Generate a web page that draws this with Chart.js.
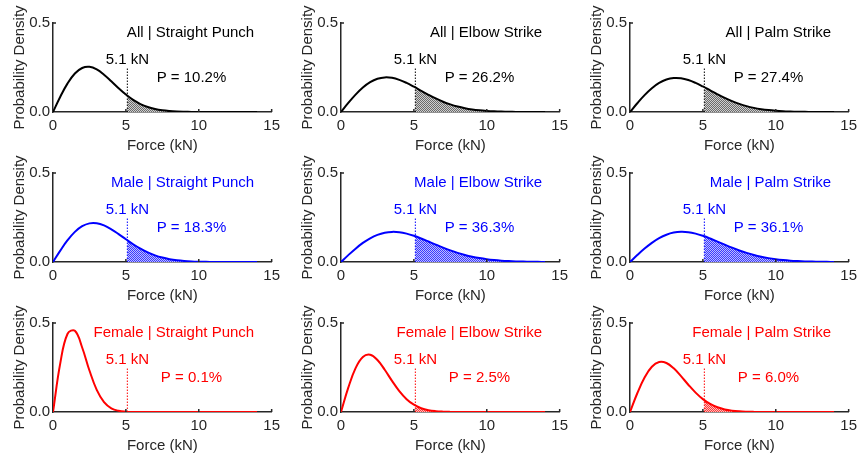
<!DOCTYPE html>
<html><head><meta charset="utf-8">
<script src="https://cdn.jsdelivr.net/npm/chart.js@4.4.1/dist/chart.umd.min.js"></script>
<style>
html,body{margin:0;padding:0;background:#fff;}
body{width:859px;height:460px;position:relative;overflow:hidden;}
.cell{position:absolute;width:285px;height:156px;}
.cell canvas{display:block;}
</style></head><body>
<script>
// ---- data ----
const forceX = [0,0.5,1,1.5,2,2.5,3,3.5,4,4.5,5,5.5,6,6.5,7,7.5,8,8.5,9,9.5,10,10.5,11,11.5,12,12.5,13,13.5,14];
const xTicks = [0,5,10,15];
const yTicks = [0,0.5];
const threshold = 5.1;
const thresholdLabel = '5.1 kN';
const thresholdLineTop = 0.25;

const titles = ['All | Straight Punch','All | Elbow Strike','All | Palm Strike',
                'Male | Straight Punch','Male | Elbow Strike','Male | Palm Strike',
                'Female | Straight Punch','Female | Elbow Strike','Female | Palm Strike'];
const tailLabels = ['P = 10.2%','P = 26.2%','P = 27.4%','P = 18.3%','P = 36.3%','P = 36.1%','P = 0.1%','P = 2.5%','P = 6.0%'];
const groups = ['all','all','all','male','male','male','female','female','female'];

const allPunch   = [0,0.0859,0.1608,0.2162,0.2472,0.2536,0.2390,0.2096,0.1724,0.1335,0.0978,0.0678,0.0447,0.0280,0.0167,0.0094,0.0051,0.0026,0.0013,0.0006,0.0003,0.0001,0,0,0,0,0,0,0];
const allElbow   = [0,0.0508,0.0978,0.1376,0.1676,0.1866,0.1944,0.1918,0.1807,0.1634,0.1421,0.1193,0.0968,0.0760,0.0578,0.0427,0.0305,0.0212,0.0143,0.0094,0.0060,0.0037,0.0022,0.0013,0.0007,0.0004,0.0002,0.0001,0.0001];
const allPalm    = [0,0.0492,0.0947,0.1335,0.1632,0.1824,0.1908,0.1894,0.1796,0.1635,0.1434,0.1215,0.0995,0.0790,0.0608,0.0454,0.0329,0.0232,0.0159,0.0106,0.0069,0.0043,0.0027,0.0016,0.0009,0.0005,0.0003,0.0002,0.0001];
const malePunch  = [0,0.0642,0.1223,0.1691,0.2011,0.2170,0.2176,0.2054,0.1838,0.1566,0.1277,0.0997,0.0747,0.0538,0.0373,0.0249,0.0160,0.0099,0.0059,0.0034,0.0019,0.0010,0.0005,0.0003,0.0001,0.0001,0,0,0];
const maleElbow  = [0,0.0386,0.0750,0.1071,0.1334,0.1527,0.1646,0.1692,0.1671,0.1593,0.1471,0.1319,0.1150,0.0977,0.0808,0.0653,0.0515,0.0397,0.0299,0.0220,0.0158,0.0112,0.0077,0.0052,0.0034,0.0022,0.0014,0.0009,0.0005];
const malePalm   = [0,0.0388,0.0753,0.1076,0.1340,0.1533,0.1652,0.1697,0.1675,0.1595,0.1471,0.1318,0.1147,0.0973,0.0805,0.0649,0.0511,0.0393,0.0295,0.0217,0.0156,0.0110,0.0075,0.0051,0.0033,0.0022,0.0014,0.0008,0.0005];
const femalePunch= [0,0.2743,0.4397,0.4559,0.3625,0.2332,0.1241,0.0555,0.0209,0.0067,0.0018,0.0004,0.0001,0,0,0,0,0,0,0,0,0,0,0,0,0,0,0,0];
const femaleElbow= [0,0.1369,0.2462,0.3093,0.3217,0.2923,0.2374,0.1747,0.1173,0.0722,0.0409,0.0214,0.0103,0.0046,0.0019,0.0007,0.0003,0.0001,0,0,0,0,0,0,0,0,0,0,0];
const femalePalm = [0,0.1053,0.1941,0.2543,0.2807,0.2751,0.2452,0.2013,0.1533,0.1090,0.0724,0.0452,0.0265,0.0146,0.0076,0.0037,0.0017,0.0007,0.0003,0.0001,0,0,0,0,0,0,0,0,0];
const densities = [allPunch,allElbow,allPalm,malePunch,maleElbow,malePalm,femalePunch,femaleElbow,femalePalm];
const densityAtThreshold = [0.0913,0.1376,0.1391,0.1219,0.1443,0.1442,0.0014,0.0361,0.0662];

// ---- styling / layout ----
const FONT = '"Liberation Sans", Arial, Helvetica, sans-serif';
const AX = '#262626';
const COLORS = {all:'#000000', male:'#0000ff', female:'#ff0000'};
const HATCH = {all:['#6a6a6a','#cfcfcf'], male:['#3a3aff','#bcbcff'], female:['#ff3a3a','#ffbcbc']};
const CELL_LEFT = [0,288,577];
const CELL_TOP = [0,150,300];
const CW = 285, CH = 156;
const TITLE_POS = {x:13.8, y:0.444};
const THR_LABEL_Y = 0.294;
const TAIL_POS = {x:9.5, y:0.19};

function makePattern(c){
  const t = document.createElement('canvas'); t.width=2; t.height=2;
  const g = t.getContext('2d');
  g.fillStyle=c[1]; g.fillRect(0,0,2,2);
  g.fillStyle=c[0]; g.fillRect(0,0,1,1); g.fillRect(1,1,1,1);
  return g.createPattern(t,'repeat');
}

function makeChart(i){
  const col = i%3, row = Math.floor(i/3);
  const div = document.createElement('div'); div.className='cell';
  div.style.left = CELL_LEFT[col]+'px'; div.style.top = CELL_TOP[row]+'px';
  const cv = document.createElement('canvas');
  cv.width=CW; cv.height=CH; cv.style.width=CW+'px'; cv.style.height=CH+'px';
  div.appendChild(cv); document.body.appendChild(div);
  const g = groups[i], color = COLORS[g];
  const dens = densities[i];
  const curve = forceX.map((x,k)=>({x:x,y:dens[k]}));
  const tail = [{x:threshold,y:densityAtThreshold[i]}].concat(curve.filter(p=>p.x>threshold));
  const font = {family:FONT, size:15};

  const textPlugin = {
    id:'panelText',
    afterDraw(chart){
      const {ctx, scales:{x,y}, chartArea:ca} = chart;
      ctx.save();
      ctx.strokeStyle = AX; ctx.lineWidth = 1.5;
      ctx.beginPath();
      xTicks.forEach(v=>{ if(v===0) return; const px=x.getPixelForValue(v); ctx.moveTo(px,ca.bottom); ctx.lineTo(px,ca.bottom-3); });
      yTicks.forEach(v=>{ if(v===0) return; const py=y.getPixelForValue(v); ctx.moveTo(ca.left,py); ctx.lineTo(ca.left+3,py); });
      ctx.stroke();
      ctx.font = '15px '+FONT;
      ctx.fillStyle = color;
      ctx.textBaseline = 'middle';
      ctx.textAlign = 'right';
      ctx.fillText(titles[i], x.getPixelForValue(TITLE_POS.x), y.getPixelForValue(TITLE_POS.y));
      ctx.textAlign = 'center';
      ctx.fillText(thresholdLabel, x.getPixelForValue(threshold), y.getPixelForValue(THR_LABEL_Y));
      ctx.fillText(tailLabels[i], x.getPixelForValue(TAIL_POS.x), y.getPixelForValue(TAIL_POS.y));
      ctx.restore();
    }
  };

  new Chart(cv, {
    type:'line',
    data:{datasets:[
      {data:curve, borderColor:color, borderWidth:2, pointRadius:0, fill:false, tension:0.4, order:0},
      {data:[{x:threshold,y:0},{x:threshold,y:thresholdLineTop}], borderColor:color, borderWidth:1, borderDash:[1.5,1.5], pointRadius:0, fill:false, tension:0, order:1},
      {data:tail, borderColor:'rgba(0,0,0,0)', borderWidth:0, pointRadius:0, backgroundColor:makePattern(HATCH[g]), fill:'origin', tension:0.4, order:2}
    ]},
    options:{
      responsive:false, animation:false, events:[],
      layout:{padding:{left:0, top:23, right:12, bottom:0}},
      plugins:{legend:{display:false}, tooltip:{enabled:false}},
      scales:{
        x:{type:'linear', min:0, max:15,
           afterBuildTicks:s=>{s.ticks = xTicks.map(v=>({value:v}));},
           afterFit:s=>{s.height=44;},
           grid:{display:false, drawTicks:false},
           border:{display:true, color:AX, width:1.5},
           ticks:{color:AX, font:font, padding:5, maxRotation:0, autoSkip:false},
           title:{display:true, text:'Force (kN)', color:AX, font:font, padding:{top:0,bottom:1}}},
        y:{type:'linear', min:0, max:0.5,
           afterBuildTicks:s=>{s.ticks = yTicks.map(v=>({value:v}));},
           afterFit:s=>{s.width=53;},
           grid:{display:false, drawTicks:false},
           border:{display:true, color:AX, width:1.5},
           ticks:{color:AX, font:font, padding:3, callback:v=>Number(v).toFixed(1)},
           title:{display:true, text:'Probability Density', color:AX, font:font, padding:{top:11,bottom:0}}}
      }
    },
    plugins:[textPlugin]
  });
}
for(let i=0;i<9;i++) makeChart(i);
</script>
</body></html>
